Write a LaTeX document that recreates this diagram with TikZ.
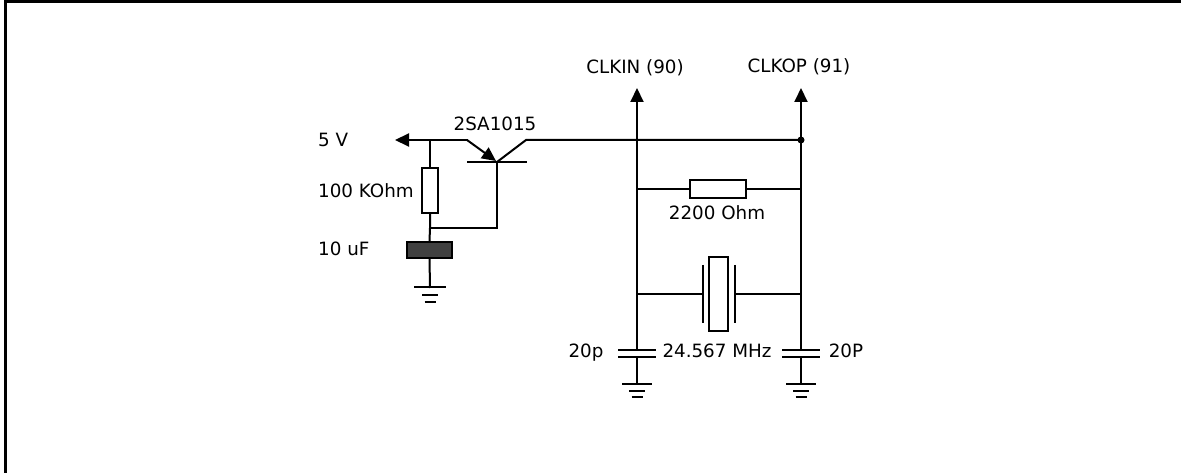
\documentclass[tikz,border=0pt]{standalone}
\usepackage{fontspec}
\setmainfont{DejaVu Sans}
\usetikzlibrary{arrows.meta}
\tikzset{
  wire/.style={line width=2pt, line cap=rect},
  lbl/.style={inner sep=0pt, font=\fontsize{18.3}{22}\selectfont},
  resbox/.style={draw, line width=2pt, fill=white, minimum width=#1, inner sep=0pt},
  pinarrow/.style={-{Triangle[length=14pt,width=13pt]}},
  frameline/.style={line width=3pt}
}
\begin{document}
\begin{tikzpicture}[x=1pt,y=-1pt]
\useasboundingbox (0,0) rectangle (1181,473);
% frame
\draw[frameline] (5,473) -- (5,1.5) -- (1181,1.5);

% --- labels
\node[lbl, anchor=base west] (l5v) at (318,146.5) {5 V};
\node[lbl, anchor=base west] (l100k) at (318,197.5) {100 KOhm};
\node[lbl, anchor=base west] (l10u) at (318,255.5) {10 uF};
\node[lbl, anchor=base] (ltr) at (495,131) {2SA1015};
\node[lbl, anchor=base] (lclkin) at (635,73.5) {CLKIN (90)};
\node[lbl, anchor=base] (lclkop) at (799,73) {CLKOP (91)};
\node[lbl, anchor=base] (l2200) at (717,219.5) {2200 Ohm};
\node[lbl, anchor=base] (l20p) at (586,357.5) {20p};
\node[lbl, anchor=base] (lxtal) at (717,357.5) {24.567 MHz};
\node[lbl, anchor=base] (l20P) at (846,357.5) {20P};

% --- coordinates
\coordinate (vtip) at (395,140);
\coordinate (j5) at (430,140);
\coordinate (em) at (467,140);
\coordinate (emt) at (496,161);
\coordinate (bt) at (497,162);
\coordinate (bl) at (467,162);
\coordinate (br) at (527,162);
\coordinate (col) at (526,140);
\coordinate (jb) at (430,228);
\coordinate (bb) at (497,228);
\coordinate (dot) at (801,140);
\coordinate (ina) at (637,88);
\coordinate (opa) at (801,88);
\coordinate (inr) at (637,189);
\coordinate (opr) at (801,189);
\coordinate (inx) at (637,294);
\coordinate (opx) at (801,294);
\coordinate (inc) at (637,350);
\coordinate (opc) at (801,350);

% --- left branch
\node[resbox=16pt, minimum height=45pt] (r1) at (430,190.5) {};
\node[draw, line width=2pt, fill=black!75, minimum width=45pt, minimum height=16pt, inner sep=0pt] (c1) at (429.5,250) {};
\draw[wire, pinarrow] (em) -- (vtip);
\draw[wire] (j5) -- (r1.north);
\draw[wire] (r1.south) -- (jb) -- (c1.north);
\draw[wire] (jb) -- (bb) -- (bt);
% ground left
\coordinate (g1) at (430,287);
\draw[wire] (c1.south) -- (g1);
\draw[wire, line cap=butt] ([xshift=-16pt]g1) -- ([xshift=16pt]g1);
\draw[wire, line cap=butt] ([xshift=-8pt,yshift=-7.5pt]g1) -- ([xshift=8pt,yshift=-7.5pt]g1);
\draw[wire, line cap=butt] ([xshift=-5.5pt,yshift=-15pt]g1) -- ([xshift=5.5pt,yshift=-15pt]g1);

% --- transistor
\draw[wire, line cap=butt] (bl) -- (br);
\draw[wire, line cap=butt, pinarrow] (em) -- (emt);
\draw[wire] (bt) -- (col) -- (dot);
\fill (dot) circle (3.5pt);

% --- clock pins
\draw[wire, pinarrow] (inc) -- (ina);
\draw[wire, pinarrow] (opc) -- (opa);

% --- feedback resistor
\node[resbox=56pt, minimum height=18pt] (r2) at (718,189) {};
\draw[wire] (inr) -- (r2.west);
\draw[wire] (r2.east) -- (opr);

% --- crystal
\coordinate (xl) at (703,294);
\coordinate (xr) at (735,294);
\draw[wire] (inx) -- (xl);
\draw[wire] (xr) -- (opx);
\draw[wire, line cap=butt] (703,265) -- (703,323);
\draw[wire, line cap=butt] (735,265) -- (735,323);
\node[draw, line width=2pt, minimum width=19pt, minimum height=74pt, inner sep=0pt] (xtal) at (718.5,294) {};

% --- load capacitors and grounds
\foreach \cx/\nm in {637/a, 801/b}{
  \draw[wire, line cap=butt] (\cx-19,350) -- (\cx+19,350);
  \draw[wire, line cap=butt] (\cx-19,357) -- (\cx+19,357);
  \draw[wire] (\cx,357) -- (\cx,384);
  \draw[wire, line cap=butt] (\cx-15,384) -- (\cx+15,384);
  \draw[wire, line cap=butt] (\cx-8,390.5) -- (\cx+8,390.5);
  \draw[wire, line cap=butt] (\cx-5.5,397) -- (\cx+5.5,397);
}
\end{tikzpicture}
\end{document}
